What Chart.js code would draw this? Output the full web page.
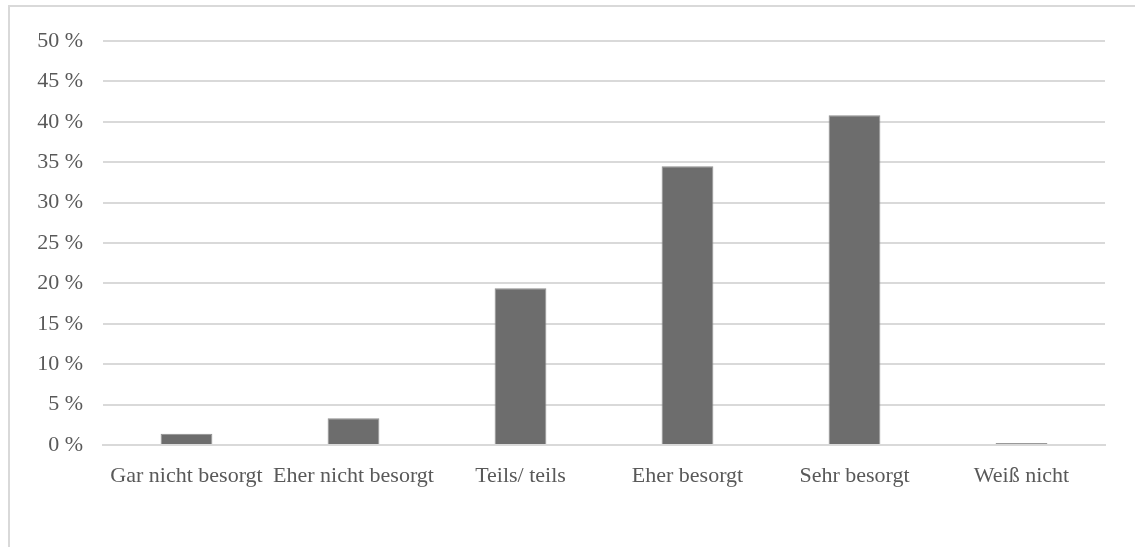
<!DOCTYPE html>
<html>
<head>
<meta charset="utf-8">
<script src="https://cdn.jsdelivr.net/npm/chart.js@4/dist/chart.umd.min.js"></script>
<style>
  html, body { margin: 0; padding: 0; background: #fff; }
  #wrap { position: relative; width: 1135px; height: 547px; overflow: hidden; }
  #frame {
    position: absolute; left: 8px; top: 5px; width: 1140px; height: 560px;
    border: 2px solid #d9d9d9; box-sizing: border-box;
  }
  canvas { position: absolute; left: 0; top: 0; }
</style>
</head>
<body>
<div id="wrap">
  <div id="frame"></div>
  <canvas id="chart-main" width="1135" height="547"></canvas>
</div>
<script>
/* global Chart */

const categories = [
  "Gar nicht besorgt",
  "Eher nicht besorgt",
  "Teils/ teils",
  "Eher besorgt",
  "Sehr besorgt",
  "Weiß nicht",
];
const shares = [1.4, 3.3, 19.4, 34.5, 40.8, 0.25];
const yTicks = [0, 5, 10, 15, 20, 25, 30, 35, 40, 45, 50];

const FONT = { family: "'Liberation Serif', 'Times New Roman', serif", size: 22 };

const ctx = document.getElementById("chart-main").getContext("2d");
new Chart(ctx, {
  type: "bar",
  data: {
    labels: categories,
    datasets: [
      {
        data: shares,
        backgroundColor: "#6d6d6d",
        borderColor: "#8f8f8f",
        borderWidth: 1,
        barPercentage: 0.31,
        categoryPercentage: 1,
      },
    ],
  },
  options: {
    responsive: false,
    animation: false,
    layout: { padding: { top: 41, right: 30, left: 0, bottom: 0 } },
    plugins: { legend: { display: false }, tooltip: { enabled: false } },
    scales: {
      x: {
        grid: { display: false },
        border: { color: "#d9d9d9", width: 2 },
        ticks: { color: "#595959", font: FONT, padding: 10, maxRotation: 0, autoSkip: false },
        afterFit: (s) => { s.height = 102; },
      },
      y: {
        min: 0,
        max: 50,
        afterBuildTicks: (s) => { s.ticks = yTicks.map((v) => ({ value: v })); },
        grid: { color: "#d9d9d9", lineWidth: 2, drawTicks: false },
        border: { display: false },
        ticks: {
          color: "#595959",
          font: FONT,
          padding: 20,
          callback: (v) => `${v} %`,
        },
        afterFit: (s) => { s.width = 103; },
      },
    },
  },
});
</script>
</body>
</html>
